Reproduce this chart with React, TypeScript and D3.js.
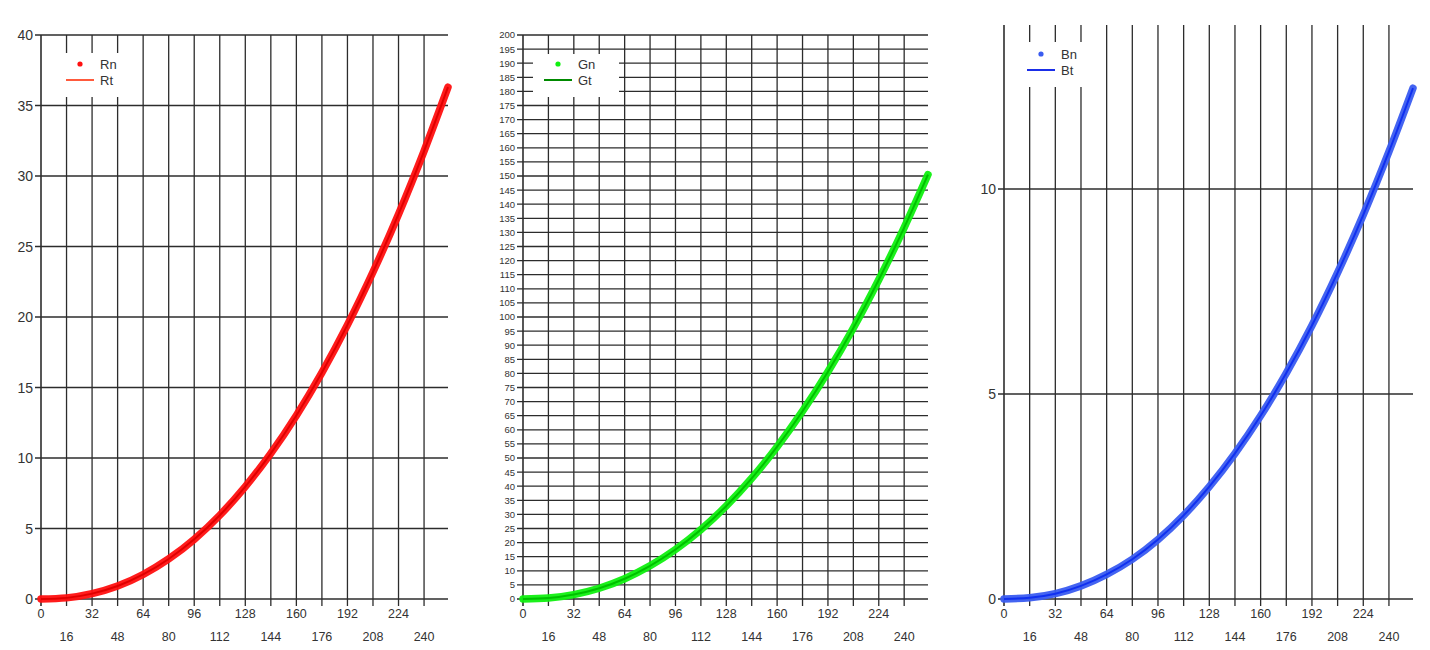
import { useEffect, useRef } from "react";
import * as d3 from "d3";

// x positions of the sampled points (0..255 channel level)
const levels = [0, 16, 32, 48, 64, 80, 96, 112, 128, 144, 160, 176, 192, 208, 224, 240, 255];
// values
const redValues = [0, 0.08, 0.38, 0.92, 1.74, 2.84, 4.23, 5.94, 7.97, 10.33, 13.02, 16.06, 19.44, 23.19, 27.29, 31.77, 36.3];
const greenValues = [0, 0.34, 1.57, 3.82, 7.19, 11.75, 17.55, 24.6, 33.0, 42.8, 54.0, 66.6, 80.6, 96.1, 113.2, 131.7, 150.5];
const blueValues = [0, 0.03, 0.13, 0.32, 0.6, 0.97, 1.45, 2.04, 2.74, 3.55, 4.47, 5.51, 6.67, 7.96, 9.37, 10.91, 12.46];
const xTicks = d3.range(0, 241, 16);
const redTicks = d3.range(0, 41, 5);
const greenTicks = d3.range(0, 201, 5);
const blueTicks = [0, 5, 10];

type Panel = {
    values: number[];
    yMax: number;
    yTicks: number[];
    left: number;
    right: number;
    top: number;
    yFont: number;
    band: string;
    core: string;
    legendLine: string;
    names: [string, string];
    legend: { x: number; y: number; w: number; h: number; dotY: number; lineY: number };
};

const panels: Panel[] = [
    {
        values: redValues, yMax: 40, yTicks: redTicks, left: 41, right: 448, top: 35, yFont: 14,
        band: "#ff1010", core: "#e00000", legendLine: "#ff5a3c", names: ["Rn", "Rt"],
        legend: { x: 55, y: 53, w: 80, h: 44, dotY: 64, lineY: 80 },
    },
    {
        values: greenValues, yMax: 200, yTicks: greenTicks, left: 523, right: 928, top: 35, yFont: 9.5,
        band: "#10f010", core: "#00c000", legendLine: "#008a00", names: ["Gn", "Gt"],
        legend: { x: 533, y: 54, w: 86, h: 43, dotY: 64, lineY: 80 },
    },
    {
        values: blueValues, yMax: 14, yTicks: blueTicks, left: 1004, right: 1413, top: 25, yFont: 14,
        band: "#3a5cf0", core: "#1030f0", legendLine: "#1a2ee8", names: ["Bn", "Bt"],
        legend: { x: 1016, y: 42, w: 84, h: 45, dotY: 54, lineY: 70 },
    },
];

const BOTTOM = 599;
const GRID = "#2c2c2c";
const TEXT = "#333";
const FONT = "'Liberation Sans', Arial, sans-serif";

export default function App() {
    const svgRef = useRef<SVGSVGElement>(null);

    useEffect(() => {
        if (!svgRef.current) return;
        const svg = d3.select(svgRef.current);
        svg.selectAll("*").remove();

        panels.forEach(p => {
            const x = d3.scaleLinear().domain([0, 255]).range([p.left, p.right]);
            const y = d3.scaleLinear().domain([0, p.yMax]).range([BOTTOM, p.top]);
            const g = svg.append("g");

            // vertical grid + x ticks
            xTicks.forEach((t, i) => {
                g.append("line").attr("x1", x(t)).attr("x2", x(t)).attr("y1", p.top).attr("y2", BOTTOM + 7)
                    .attr("stroke", GRID).attr("stroke-width", i === 0 ? 1.6 : 1.3);
                g.append("text").attr("x", x(t)).attr("y", i % 2 === 0 ? 618 : 641)
                    .attr("text-anchor", "middle").attr("font-family", FONT).attr("font-size", 12.5)
                    .attr("fill", TEXT).text(t);
            });

            // horizontal grid + y ticks
            p.yTicks.forEach(t => {
                g.append("line").attr("x1", p.left - 6).attr("x2", p.right).attr("y1", y(t)).attr("y2", y(t))
                    .attr("stroke", GRID).attr("stroke-width", 1.3);
                g.append("text").attr("x", p.left - 8).attr("y", y(t)).attr("dy", "0.36em")
                    .attr("text-anchor", "end").attr("font-family", FONT).attr("font-size", p.yFont)
                    .attr("fill", TEXT).text(t);
            });

            // legend box (white, hides the grid behind it)
            const L = p.legend;
            g.append("rect").attr("x", L.x).attr("y", L.y).attr("width", L.w).attr("height", L.h).attr("fill", "#fff");
            g.append("circle").attr("cx", L.x + 25).attr("cy", L.dotY).attr("r", 2.6).attr("fill", p.band);
            g.append("line").attr("x1", L.x + 11).attr("x2", L.x + 39).attr("y1", L.lineY).attr("y2", L.lineY)
                .attr("stroke", p.legendLine).attr("stroke-width", 2);
            [L.dotY, L.lineY].forEach((ly, k) => {
                g.append("text").attr("x", L.x + 45).attr("y", ly).attr("dy", "0.36em")
                    .attr("font-family", FONT).attr("font-size", 13).attr("fill", TEXT).text(p.names[k]);
            });

            // measured points band + theoretical line
            const pts = levels.map((lv, i) => [lv, p.values[i]] as [number, number]);
            const line = d3.line<[number, number]>().x(d => x(d[0])).y(d => y(d[1])).curve(d3.curveMonotoneX);
            g.append("path").datum(pts).attr("d", line).attr("fill", "none")
                .attr("stroke", p.band).attr("stroke-width", 7.5).attr("stroke-linecap", "round").attr("opacity", 0.95);
            g.append("path").datum(pts).attr("d", line).attr("fill", "none")
                .attr("stroke", p.core).attr("stroke-width", 2);
        });
    }, []);

    return (
        <svg ref={svgRef} width={1430} height={650}
            style={{ position: "absolute", left: 0, top: 0, background: "#fff" }} />
    );
}
